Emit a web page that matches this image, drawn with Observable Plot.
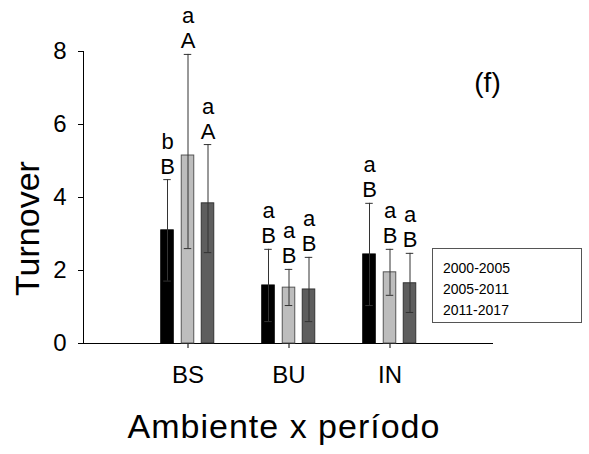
<!DOCTYPE html>
<html>
<head>
<meta charset="utf-8">
<script src="https://cdn.jsdelivr.net/npm/d3@7"></script>
<script src="https://cdn.jsdelivr.net/npm/@observablehq/plot@0.6"></script>
<style>
  html, body { margin: 0; padding: 0; background: #fff; }
  #chart svg { display: block; }
</style>
</head>
<body>
<div id="chart"></div>
<script>
const groups = ["BS", "BU", "IN"];
const periods = ["2000-2005", "2005-2011", "2011-2017"];

// mean turnover per group, ordered by period
const meanBS = [3.1, 5.15, 3.84];
const meanBU = [1.59, 1.53, 1.48];
const meanIN = [2.44, 1.95, 1.65];

// error bar upper ends
const hiBS = [4.49, 7.92, 5.45];
const hiBU = [2.58, 2.03, 2.36];
const hiIN = [3.84, 2.58, 2.47];

// error bar lower ends
const loBS = [1.71, 2.6, 2.49];
const loBU = [0.6, 1.04, 0.6];
const loIN = [1.04, 1.32, 0.85];

// significance letters
const lowerBS = ["b", "a", "a"];
const lowerBU = ["a", "a", "a"];
const lowerIN = ["a", "a", "a"];
const upperBS = ["B", "A", "A"];
const upperBU = ["B", "B", "B"];
const upperIN = ["B", "B", "B"];

const yTicks = [0, 2, 4, 6, 8];

const means = {BS: meanBS, BU: meanBU, IN: meanIN};
const his = {BS: hiBS, BU: hiBU, IN: hiIN};
const los = {BS: loBS, BU: loBU, IN: loIN};
const lowers = {BS: lowerBS, BU: lowerBU, IN: lowerIN};
const uppers = {BS: upperBS, BU: upperBU, IN: upperIN};

const rows = [];
groups.forEach(g => periods.forEach((p, i) => rows.push({
  group: g, period: p, mean: means[g][i], hi: his[g][i], lo: los[g][i],
  lower: lowers[g][i], upper: uppers[g][i]
})));

const fills = ["#000000", "#bdbdbd", "#5e5e5e"];
const strokes = ["#000000", "#555555", "#333333"];
const offsets = [-20.5, 0, 20];
const bandW = 101.5;
const barW = 13;
const capW = 8;

const marks = [];
periods.forEach((p, i) => {
  const d = rows.filter(r => r.period === p);
  const off = offsets[i];
  const bi = (bandW - barW) / 2;
  const ci = (bandW - capW) / 2;
  marks.push(Plot.barY(d, {x: "group", y: "mean", fill: fills[i], stroke: strokes[i], strokeWidth: 1,
    insetLeft: bi + off, insetRight: bi - off}));
  marks.push(Plot.ruleX(d, {x: "group", y1: "lo", y2: "hi", dx: off, stroke: "#333", strokeWidth: 1}));
  marks.push(Plot.tickY(d, {x: "group", y: "hi", stroke: "#333", strokeWidth: 1, insetLeft: ci + off, insetRight: ci - off}));
  marks.push(Plot.tickY(d, {x: "group", y: "lo", stroke: "#333", strokeWidth: 1, insetLeft: ci + off, insetRight: ci - off}));
  marks.push(Plot.text(d, {x: "group", y: "hi", text: "upper", dx: off, dy: -6, lineAnchor: "bottom", fontSize: 22, fill: "#000"}));
  marks.push(Plot.text(d, {x: "group", y: "hi", text: "lower", dx: off, dy: -31, lineAnchor: "bottom", fontSize: 22, fill: "#000"}));
});

marks.push(Plot.text(["Turnover"], {frameAnchor: "left", textAnchor: "middle", lineAnchor: "middle", rotate: -90, dx: -55, dy: 31, fontSize: 34, fill: "#000"}));
marks.push(Plot.text(["Ambiente x período"], {frameAnchor: "bottom", textAnchor: "middle", dx: -4, dy: 94, lineAnchor: "bottom", fontSize: 34, fill: "#000"}));
marks.push(Plot.text(["(f)"], {frameAnchor: "top-right", textAnchor: "middle", dx: -5, dy: 32, lineAnchor: "middle", fontSize: 28, fill: "#000"}));

const chart = Plot.plot({
  width: 589,
  height: 454,
  marginLeft: 83,
  marginRight: 97,
  marginTop: 51,
  marginBottom: 111,
  style: {fontFamily: "'Liberation Sans', Arial, sans-serif", fontSize: "24px", color: "#000", background: "#fff"},
  x: {domain: groups, range: [136, 136 + 3 * bandW], padding: 0, tickSize: 5, tickPadding: 17, line: true, label: null},
  y: {domain: [0, 8], ticks: yTicks, tickSize: 5, tickPadding: 12, line: true, label: null},
  marks
});

document.getElementById("chart").appendChild(chart);

const svg = d3.select(chart);
// slightly wider title lettering, as in the original
svg.selectAll("text").filter(function() { return this.textContent === "Ambiente x período"; })
  .attr("letter-spacing", 1);
svg.selectAll("[aria-label^='x-axis'] text, [aria-label^='y-axis'] text").attr("fill", "#000");

// legend box (text only, as in the original)
const lg = svg.append("g").attr("text-anchor", "start");
lg.append("rect").attr("x", 432.5).attr("y", 248.5).attr("width", 149).attr("height", 74)
  .attr("fill", "#fff").attr("stroke", "#555").attr("stroke-width", 1);
lg.selectAll("text").data(periods).join("text")
  .attr("x", 443).attr("y", (d, i) => 273 + i * 21)
  .attr("font-size", 14).attr("fill", "#000")
  .attr("text-anchor", "start")
  .text(d => d);
</script>
</body>
</html>
